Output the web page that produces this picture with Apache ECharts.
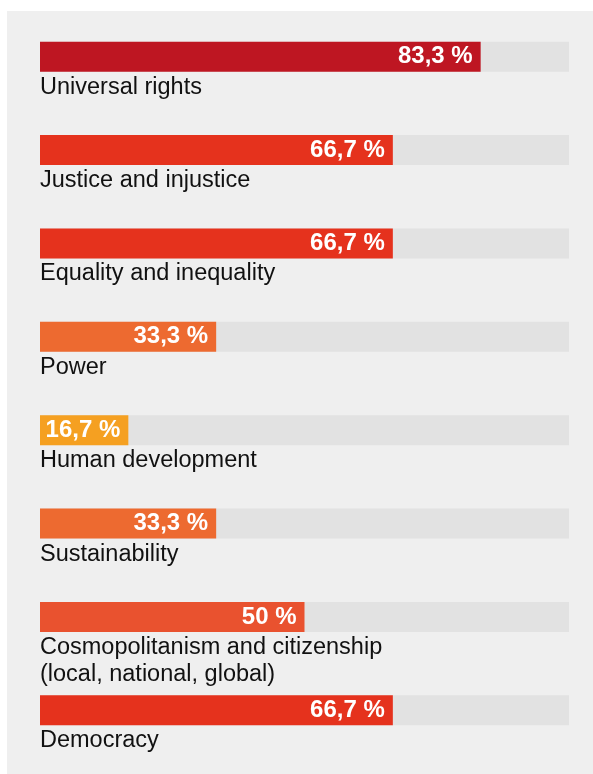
<!DOCTYPE html>
<html>
<head>
<meta charset="utf-8">
<script src="https://cdn.jsdelivr.net/npm/echarts@6/dist/echarts.min.js"></script>
<style>
  html, body { margin: 0; padding: 0; background: #ffffff; }
  #chart { width: 593px; height: 774px; }
</style>
</head>
<body>
<div id="chart"></div>
<script>
  // Kategorien und Anteile
  var categories = [
    'Universal rights',
    'Justice and injustice',
    'Equality and inequality',
    'Power',
    'Human development',
    'Sustainability',
    'Cosmopolitanism and citizenship\n(local, national, global)',
    'Democracy'
  ];
  var values = [83.3, 66.7, 66.7, 33.3, 16.7, 33.3, 50, 66.7];
  var barColors = ['#be1622', '#e5321d', '#e5321d', '#ed6a30', '#f5a021', '#ed6a30', '#e9522f', '#e5321d'];
  var trackMax = 100;

  var chart = echarts.init(document.getElementById('chart'));

  chart.setOption({
    animation: false,
    graphic: [{
      type: 'rect',
      z: -10,
      shape: { x: 7, y: 11, width: 586, height: 763 },
      style: { fill: '#efefef' }
    }],
    grid: { left: 40, right: 24, top: 10, bottom: 17 },
    xAxis: {
      type: 'value',
      min: 0,
      max: trackMax,
      show: false
    },
    yAxis: {
      type: 'category',
      inverse: true,
      data: categories,
      show: false
    },
    series: [
      {
        // grauer Hintergrundbalken + Beschriftung darunter
        type: 'bar',
        barWidth: 30,
        silent: true,
        data: categories.map(function () { return trackMax; }),
        itemStyle: { color: '#e2e2e2' },
        label: {
          show: true,
          position: [0, 32],
          formatter: function (p) { return p.name; },
          fontFamily: 'Liberation Sans, Arial, sans-serif',
          fontSize: 23.5,
          lineHeight: 27,
          color: '#111111',
          align: 'left',
          verticalAlign: 'top'
        }
      },
      {
        type: 'bar',
        barWidth: 30,
        barGap: '-100%',
        data: values.map(function (v, i) {
          return { value: v, itemStyle: { color: barColors[i] } };
        }),
        label: {
          show: true,
          position: 'insideRight',
          distance: 8,
          formatter: function (p) {
            return String(p.value).replace('.', ',') + ' %';
          },
          fontFamily: 'Liberation Sans, Arial, sans-serif',
          fontWeight: 'bold',
          fontSize: 24,
          color: '#ffffff'
        }
      }
    ]
  });
</script>
</body>
</html>
